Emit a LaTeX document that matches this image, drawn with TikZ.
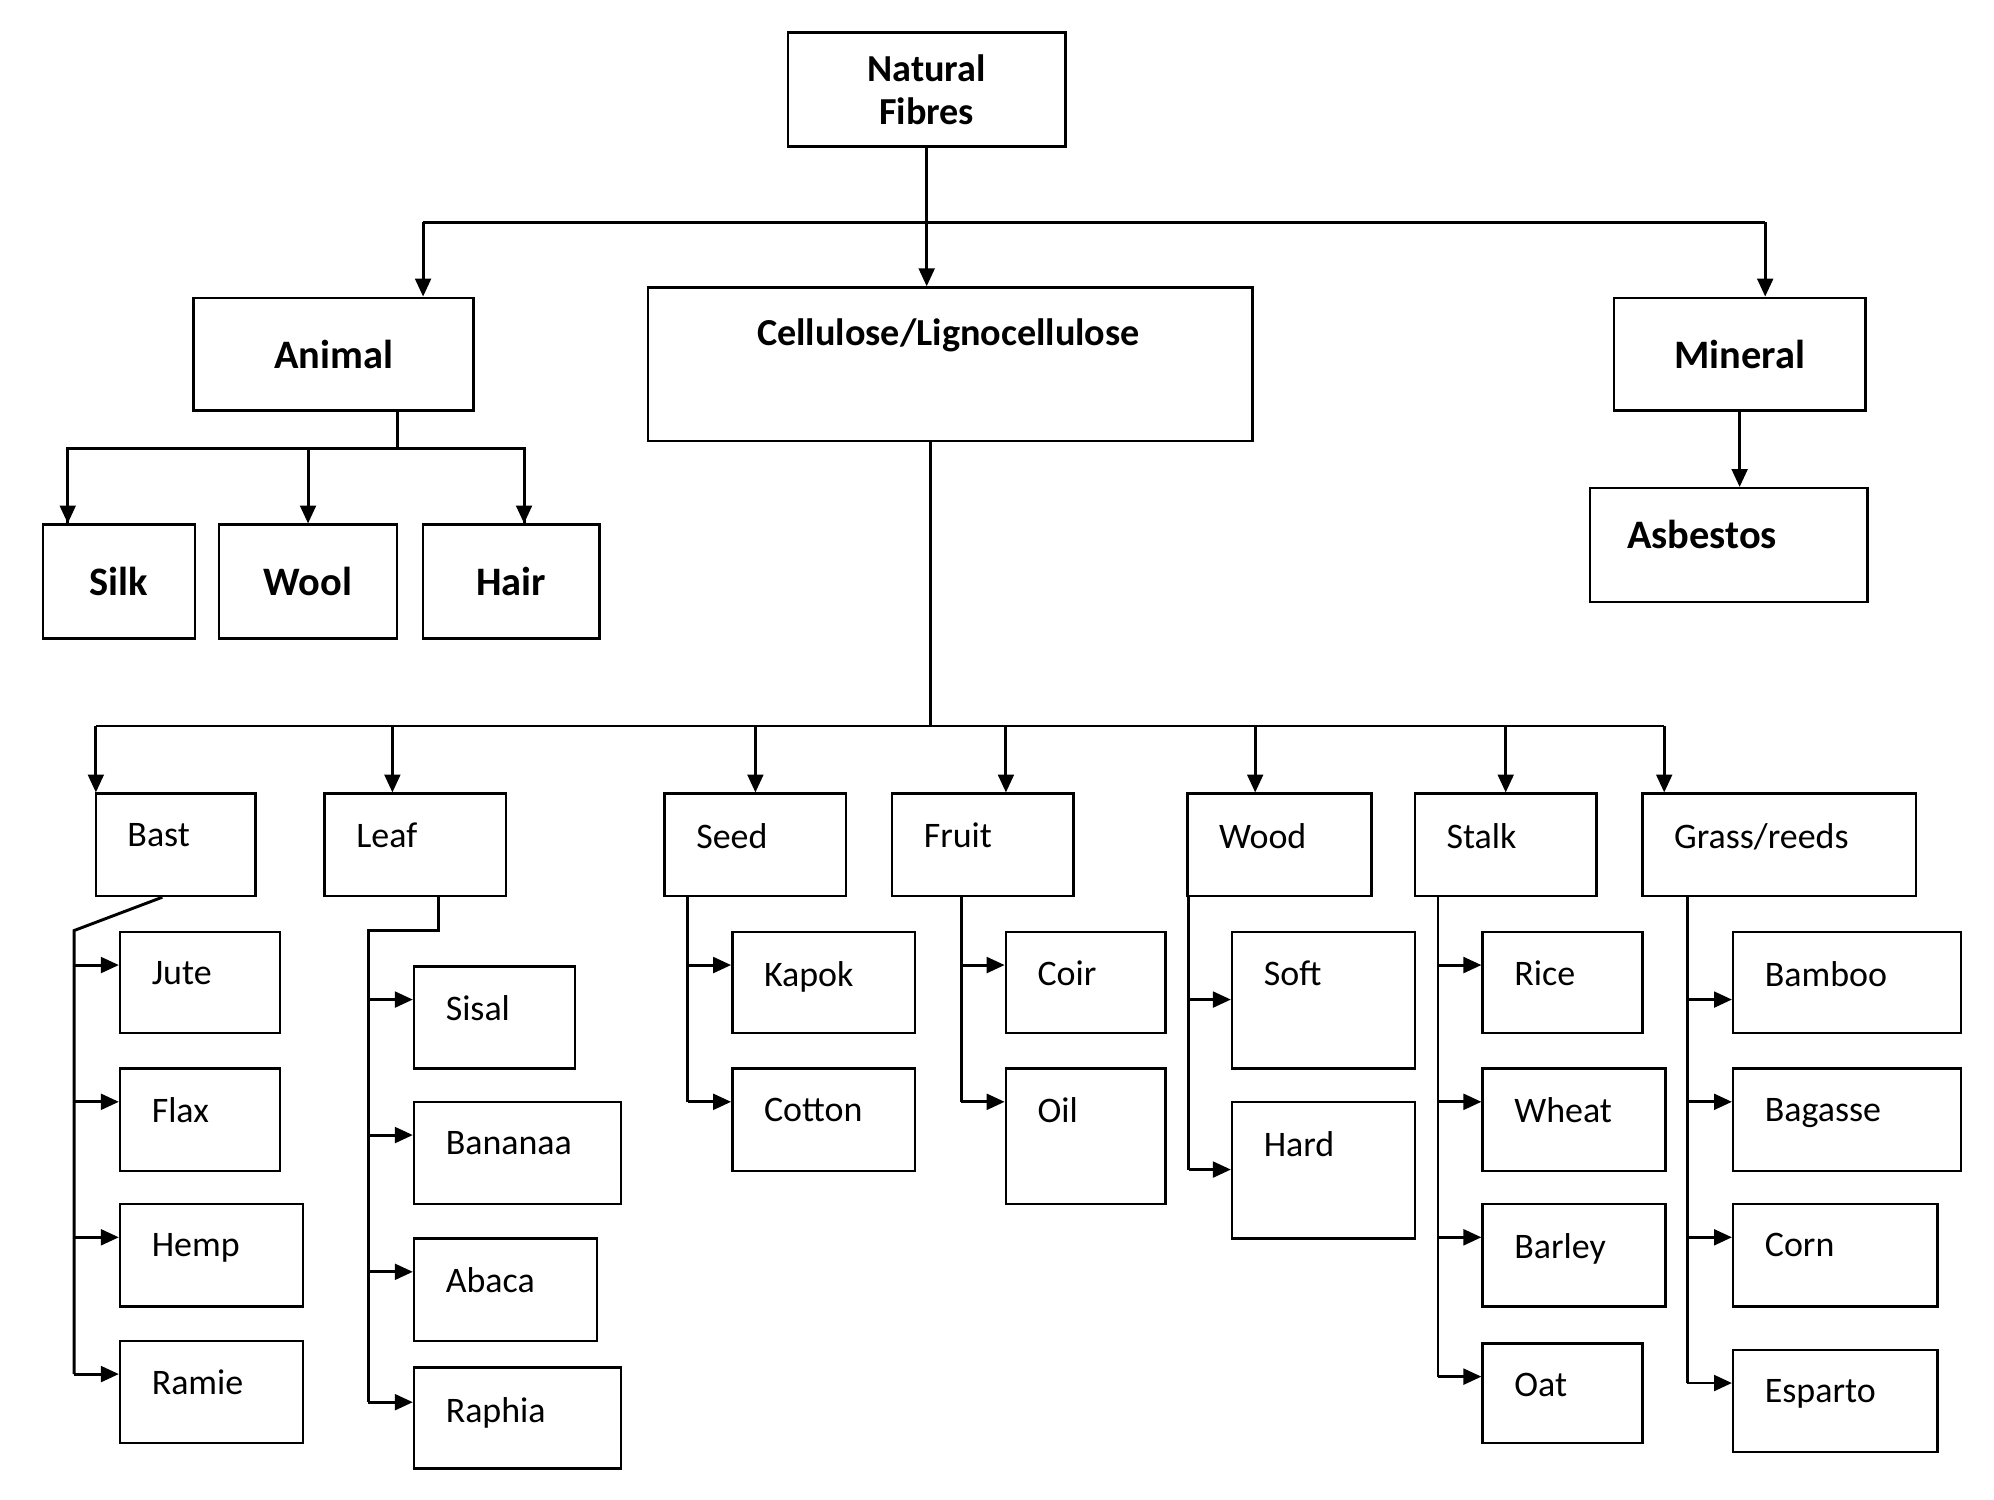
\documentclass[tikz,border=0pt]{standalone}
\usepackage{fontspec}
\setmainfont{Carlito}
\usetikzlibrary{positioning,arrows.meta,calc}

% boxes given by their corners (in pixels of the layout grid)
\newcommand{\fibbox}[6]{%
  \node[box, minimum width={(#4-#2)*0.02cm}, minimum height={(#5-#3)*0.02cm},
        label={[lbl]north west:#6}] (#1) at (#2,#3) {};}

\begin{document}
\begin{tikzpicture}[x=0.02cm,y=-0.02cm,
    box/.style={draw, line width=1.1pt, anchor=north west, inner sep=0pt},
    lbl/.style={anchor=north west, xshift=14pt, yshift=-13pt, inner sep=0pt, font=\fontsize{16}{19}\selectfont},
    top/.style={font=\bfseries\fontsize{17}{19}\selectfont, align=center},
    upper/.style={font=\bfseries\fontsize{18}{18}\selectfont},
    arr/.style={-{Triangle[length=8pt,width=7pt]}},
    every path/.style={line width=1.3pt}]
  \useasboundingbox (0,0) rectangle (1560,1173);

  % top levels
  \node[box, minimum width={217*0.02cm}, minimum height={89*0.02cm}, top, anchor=center] (nf) at (725,70) {Natural\\Fibres};
  \node[box, minimum width={219*0.02cm}, minimum height={88*0.02cm}, upper, anchor=center] (animal) at (261,277) {Animal};
  \node[box, minimum width={473*0.02cm}, minimum height={120*0.02cm}, anchor=north west] (cell) at (506,224) {};
  \node[top, anchor=center] (celltxt) at (742,262) {Cellulose/Lignocellulose};
  \node[box, minimum width={197*0.02cm}, minimum height={88*0.02cm}, upper, anchor=center] (mineral) at (1361,277) {Mineral};
  \fibbox{asb}{1243}{381}{1460}{470}{}
  \node[upper, anchor=west] (asbtxt) at (1266,418) {Asbestos};

  \node[box, minimum width={119*0.02cm}, minimum height={89*0.02cm}, upper, anchor=center] (silk) at (93,455) {Silk};
  \node[box, minimum width={139*0.02cm}, minimum height={89*0.02cm}, upper, anchor=center] (wool) at (241,455) {Wool};
  \node[box, minimum width={138*0.02cm}, minimum height={89*0.02cm}, upper, anchor=center] (hair) at (400,455) {Hair};

  \draw[arr] (nf.south) -- (nf.south |- cell.north);
  \coordinate (tl) at (331,174);
  \coordinate (tr) at (1381,174);
  \draw (tl) -- (tr);
  \draw[arr] (tl) -- (tl |- animal.north);
  \draw[arr] (tr) -- (tr |- mineral.north);
  \draw[arr] (mineral.south) -- (asb.north -| mineral.south);

  \coordinate (ab) at (311,351);
  \draw (animal.south -| ab) -- (ab);
  \draw (silk.north -| 53,0) |- (ab) -| (hair.north -| 410,0);
  \draw[arr] (53,351) -- (silk.north -| 53,0);
  \draw[arr] (ab -| wool.north) -- (wool.north);
  \draw[arr] (410,351) -- (hair.north -| 410,0);

  % second level
  \fibbox{bast}{74}{620}{199}{700}{Bast}
  \fibbox{leaf}{253}{620}{395}{700}{Leaf}
  \fibbox{seed}{519}{620}{661}{700}{Seed}
  \fibbox{fruit}{697}{620}{839}{700}{Fruit}
  \fibbox{wood}{928}{620}{1072}{700}{Wood}
  \fibbox{stalk}{1106}{620}{1248}{700}{Stalk}
  \fibbox{grass}{1284}{620}{1498}{700}{Grass/reeds}

  \coordinate (cb) at (728,568);
  \draw (cell.south -| cb) -- (cb);
  \draw (75,568) -- (1302,568);
  \foreach \x/\n in {75/bast,307/leaf,591/seed,787/fruit,982/wood,1178/stalk,1302/grass}
    \draw[arr] (\x,568) -- (\n.north -| \x,0);

  % leaves
  \fibbox{jute}{93}{728}{218}{807}{Jute}
  \fibbox{flax}{93}{835}{218}{915}{Flax}
  \fibbox{hemp}{93}{941}{236}{1021}{Hemp}
  \fibbox{ramie}{93}{1048}{236}{1128}{Ramie}

  \fibbox{sisal}{323}{755}{449}{835}{Sisal}
  \fibbox{banana}{323}{861}{485}{941}{Bananaa}
  \fibbox{abaca}{323}{968}{466}{1048}{Abaca}
  \fibbox{raphia}{323}{1069}{485}{1148}{Raphia}

  \fibbox{kapok}{572}{728}{715}{807}{Kapok}
  \fibbox{cotton}{572}{835}{715}{915}{Cotton}

  \fibbox{coir}{786}{728}{911}{807}{Coir}
  \fibbox{oil}{786}{835}{911}{941}{Oil}

  \fibbox{soft}{963}{728}{1106}{835}{Soft}
  \fibbox{hard}{963}{861}{1106}{968}{Hard}

  \fibbox{rice}{1159}{728}{1284}{807}{Rice}
  \fibbox{wheat}{1159}{835}{1302}{915}{Wheat}
  \fibbox{barley}{1159}{941}{1302}{1021}{Barley}
  \fibbox{oat}{1159}{1050}{1284}{1128}{Oat}

  \fibbox{bamboo}{1355}{728}{1533}{807}{Bamboo}
  \fibbox{bagasse}{1355}{835}{1533}{915}{Bagasse}
  \fibbox{corn}{1355}{941}{1515}{1021}{Corn}
  \fibbox{esparto}{1355}{1055}{1515}{1135}{Esparto}

  % branch lines
  \coordinate (bastv) at (58,728);
  \draw (bast.south -| 127,0) -- (bastv) -- (58,1075);
  \foreach \n/\y in {jute/755,flax/862,hemp/968,ramie/1075}
    \draw[arr] (58,\y) -- (\n.west |- 0,\y);

  \coordinate (leafv) at (288,728);
  \draw (leaf.south -| 343,0) -- (343,728) -- (leafv) -- (288,1097);
  \foreach \n/\y in {sisal/782,banana/888,abaca/995,raphia/1097}
    \draw[arr] (288,\y) -- (\n.west |- 0,\y);

  \draw (seed.south -| 538,0) -- (538,862);
  \foreach \n/\y in {kapok/755,cotton/862}
    \draw[arr] (538,\y) -- (\n.west |- 0,\y);

  \draw (fruit.south -| 752,0) -- (752,862);
  \foreach \n/\y in {coir/755,oil/862}
    \draw[arr] (752,\y) -- (\n.west |- 0,\y);

  \draw (wood.south -| 930,0) -- (930,915);
  \foreach \n/\y in {soft/782,hard/915}
    \draw[arr] (930,\y) -- (\n.west |- 0,\y);

  \draw (stalk.south -| 1125,0) -- (1125,1077);
  \foreach \n/\y in {rice/755,wheat/862,barley/968,oat/1077}
    \draw[arr] (1125,\y) -- (\n.west |- 0,\y);

  \draw (grass.south -| 1320,0) -- (1320,1082);
  \foreach \n/\y in {bamboo/782,bagasse/862,corn/968,esparto/1082}
    \draw[arr] (1320,\y) -- (\n.west |- 0,\y);
\end{tikzpicture}
\end{document}
